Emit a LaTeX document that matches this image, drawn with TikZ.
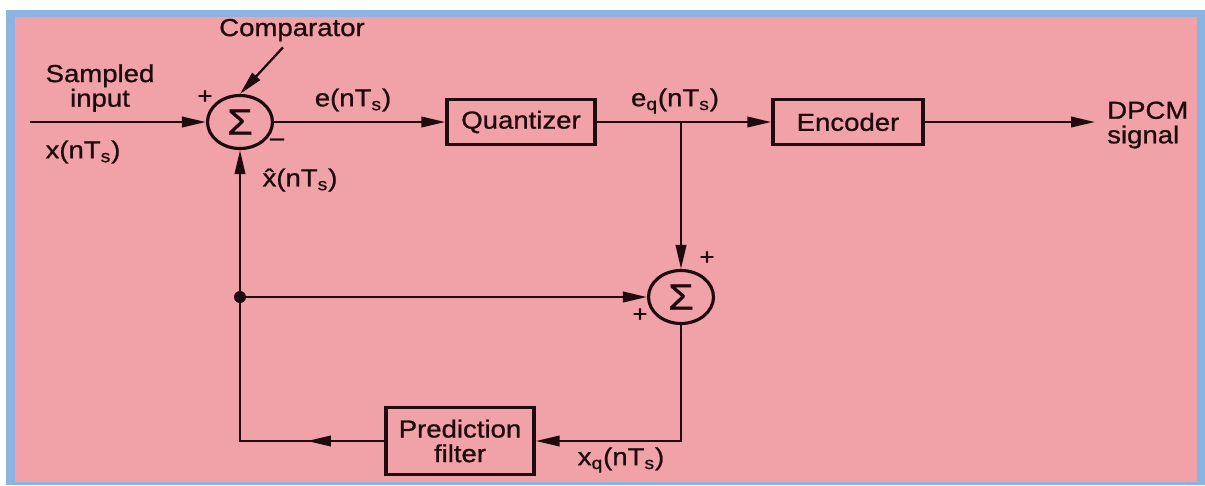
\documentclass[tikz,border=0pt]{standalone}
\usepackage{fontspec}
\setmainfont[FakeStretch=1.12,FakeBold=0.9]{Liberation Sans}
\usetikzlibrary{arrows.meta,shapes.geometric}
\definecolor{bgpink}{RGB}{241,162,168}
\definecolor{framebl}{RGB}{140,180,226}
\definecolor{ink}{RGB}{30,12,12}
\begin{document}
\begin{tikzpicture}[x=0.02cm,y=-0.02cm, every node/.style={font=\fontsize{14}{14}\selectfont,text=ink},
  blk/.style={draw=ink,line width=2pt,minimum width=2.96cm,minimum height=0.9cm,align=center,inner sep=2pt},
  summ/.style={draw=ink,ellipse,line width=1.8pt,minimum width=1.3cm,minimum height=1.06cm,inner sep=0pt,font=\fontsize{21}{21}\selectfont},
  sgn/.style={font=\fontsize{13}{13}\selectfont,inner sep=0pt},
  dot/.style={circle,fill=ink,minimum size=0.24cm,inner sep=0pt},
  sig/.style={draw=ink,line width=1.3pt,-{Triangle[length=0.48cm,width=0.21cm]}},
  wire/.style={draw=ink,line width=1.3pt}]
\useasboundingbox (0,0) rectangle (1205,485);
\fill[white] (0,0) rectangle (1205,485);
\fill[framebl] (6,10) rectangle (1205,485);
\fill[bgpink] (15,17) rectangle (1197,482);
% forward path
\coordinate (src) at (30,122);
\node[summ] (sumA) at (240,122) {Σ};
\node[blk] (quant) at (521,122) {Quantizer};
\node[blk,minimum width=3cm] (enc) at (848,122) {Encoder};
\coordinate (jn) at (681,122);
\coordinate (out) at (1095,122);
\draw[sig] (src) -- (sumA.west);
\draw[sig] (sumA.east) -- (quant.west);
\draw[sig] (quant.east) -- (enc.west);
\draw[sig] (enc.east) -- (out);
% feedback loop
\node[summ] (sumB) at (681,297) {Σ};
\node[dot] (tap) at (240,297) {};
\node[blk,minimum height=1.34cm] (pred) at (460,441) {Prediction\\filter};
\coordinate (cnr) at (240,441);
\coordinate (lft) at (307,441);
\draw[sig] (jn) -- (sumB.north);
\draw[sig] (tap) -- (sumB.west);
\draw[sig] (sumB.south) |- (pred.east);
\draw[sig] (pred.west) -- (cnr) -- (sumA.south);
\draw[sig] (pred.west) -- (lft);
% labels
\node (comp) at (292,30) {Comparator};
\draw[sig] ([xshift=-0.18cm]comp.south) -- (sumA.north);
\node[align=center] (sin) at (100,88) {Sampled\\input};
\node (xin) at (83,152) {x(nT\textsubscript{s})};
\node (elab) at (353,100) {e(nT\textsubscript{s})};
\node (eqlab) at (675,101) {e\textsubscript{q}(nT\textsubscript{s})};
\node[align=left,anchor=west] (dpcm) at (1101,125) {DPCM\\signal};
\node (xhlab) at (300,180) {\^{x}(nT\textsubscript{s})};
\node (xqlab) at (621,460) {x\textsubscript{q}(nT\textsubscript{s})};
\node[sgn] (pa) at (205,97) {+};
\node[sgn] (ma) at (277,142) {–};
\node[sgn] (pb1) at (707,258) {+};
\node[sgn] (pb2) at (640,315) {+};
\end{tikzpicture}
\end{document}
